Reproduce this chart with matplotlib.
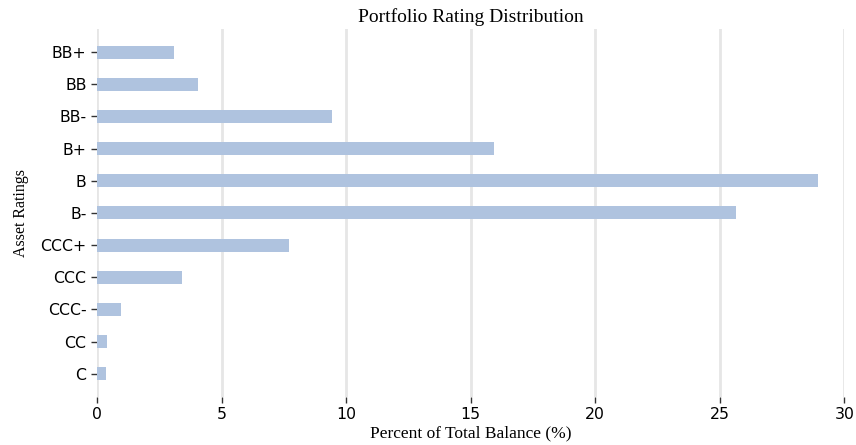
import matplotlib.pyplot as plt

# rating buckets, top to bottom as shown
ratings = ['BB+', 'BB', 'BB-', 'B+', 'B', 'B-', 'CCC+', 'CCC', 'CCC-', 'CC', 'C']
pct_balance = [3.1, 4.05, 9.45, 15.95, 28.95, 25.65, 7.7, 3.4, 0.95, 0.4, 0.35]

# barh draws bottom-up, so flip
ratings_plot = ratings[::-1]
pct_plot = pct_balance[::-1]

plt.rcParams['font.family'] = 'DejaVu Sans'

fig = plt.figure(figsize=(8.56, 4.45), dpi=100)
ax = fig.add_axes([0.1133, 0.108, 0.8732, 0.827])

ax.barh(ratings_plot, pct_plot, height=0.4, color='#afc3df', zorder=2)

# Format plot.
ax.set_xlim(0, 30)
ax.set_xticks([0, 5, 10, 15, 20, 25, 30])
ax.grid(axis='x', color='#e6e6e6', linewidth=2, zorder=0)
ax.set_axisbelow(True)
for s in ax.spines.values():
    s.set_visible(False)
ax.tick_params(axis='both', which='major', labelsize=11.3, length=4, width=1, color='#333333')

ax.set_title("Portfolio Rating Distribution", fontsize=14, family='Liberation Serif', pad=5)
ax.set_xlabel("Percent of Total Balance (%)", fontsize=12.5, family='Liberation Serif', labelpad=2)
ax.set_ylabel("Asset Ratings", fontsize=11.5, family='Liberation Serif', labelpad=8)

fig.savefig('out.png', dpi=100)
